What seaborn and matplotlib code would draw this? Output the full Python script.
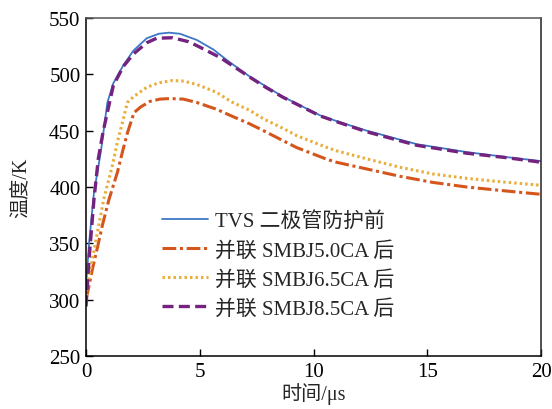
import matplotlib
matplotlib.use("Agg")
import matplotlib.pyplot as plt
import seaborn as sns

# ---- data ----
t_tvs = [0, 0.03, 0.13, 0.35, 0.65, 0.94, 1.2, 1.64, 2.08, 2.67, 3.2, 3.65, 4.13,
         4.87, 5.6, 6.3, 7.2, 8.67, 9.41, 10.3, 11.16, 12.34, 14.54, 16.73, 18.5, 20]
T_tvs = [310, 320, 349, 395, 431, 475, 492, 508, 521, 532, 536, 537, 536,
         530.5, 522, 511, 498, 480, 472.5, 463.5, 457.5, 450, 438, 431, 426.5, 423]

t_50 = [0, 0.09, 0.28, 0.5, 0.72, 1.01, 1.38, 1.6, 1.82, 2.11, 2.4, 2.81, 3.25,
        3.69, 4.28, 4.87, 5.74, 6.4, 7.2, 7.8, 8.38, 9.26, 10.6, 11.0, 12.34,
        13.8, 15.27, 16.73, 18.2, 20]
T_50 = [301, 308, 327, 346, 366, 389, 413, 431, 448, 466, 471, 476, 478,
        478.5, 478, 475, 469, 463, 456, 450, 444, 435, 424.5, 422, 416,
        409.5, 404, 400, 397, 393.5]

t_65 = [0, 0.13, 0.35, 0.57, 0.79, 1.16, 1.38, 1.6, 1.82, 2.08, 2.67, 3.2, 3.8,
        4.3, 4.87, 5.74, 6.4, 7.2, 7.8, 8.67, 9.26, 10.6, 11.0, 12.34, 13.8,
        15.27, 16.73, 18.2, 20]
T_65 = [303, 320, 343.5, 367, 390, 419, 440, 457, 475, 480, 488.5, 492.5, 494.5,
        494, 491, 484, 475.5, 468, 460.5, 452, 445.6, 435, 432.2, 425, 417.5,
        411.5, 407.7, 404.7, 401.5]

t_85 = [0, 0.13, 0.35, 0.54, 0.75, 1.2, 1.64, 2.08, 2.67, 3.1, 3.8, 4.5, 4.87,
        5.89, 7.2, 7.94, 8.67, 9.41, 10.3, 11.16, 12.34, 14.54, 16.73, 18.5, 20]
T_85 = [294, 335, 389, 425, 449, 490, 507, 518, 528, 532, 532.5, 529, 525.5,
        515, 497.5, 488, 479.5, 472, 463, 457, 449, 437, 430, 426, 422]

labels = ["TVS 二极管防护前", "并联 SMBJ5.0CA 后", "并联 SMBJ6.5CA 后", "并联 SMBJ8.5CA 后"]
x_ticks = [0, 5, 10, 15, 20]
y_ticks = [250, 300, 350, 400, 450, 500, 550]

sns.set_style("ticks")
plt.rcParams["font.family"] = ["Liberation Serif", "Noto Sans CJK SC", "DejaVu Sans"]

fig = plt.figure(figsize=(5.52, 4.10), dpi=100)
ax = fig.add_axes([86 / 552, 1 - 357 / 410, 455 / 552, 338 / 410])

series = [
    (t_tvs, T_tvs, "#3c78c6", 1.3, None),
    (t_50, T_50, "#d4561c", 2.2, (4.5, 1.2, 1.0, 1.2)),
    (t_65, T_65, "#e9ad3a", 2.2, (0.8, 1.0)),
    (t_85, T_85, "#74237f", 2.4, (3.3, 1.6)),
]
for (x, y, c, lw, d), lab in zip(series, labels):
    sns.lineplot(x=x, y=y, ax=ax, color=c, linewidth=lw, label=lab)
    line = ax.lines[-1]
    if d is not None:
        line.set_dashes(d)
        line.set_dash_capstyle("butt")

ax.set_xlim(0, 20)
ax.set_ylim(250, 550)
ax.set_xticks(x_ticks)
ax.set_yticks(y_ticks)
ax.tick_params(direction="in", length=5, width=1, labelsize=15, colors="black",
               top=False, right=False, pad=4)
for s in ["left", "bottom"]:
    ax.spines[s].set_color("black")
    ax.spines[s].set_linewidth(1.1)
for s in ["top", "right"]:
    ax.spines[s].set_visible(True)
    ax.spines[s].set_color("#555555")
    ax.spines[s].set_linewidth(1.1)
ax.spines["right"].set_color("#222222")

ax.set_xlabel("时间/μs", fontsize=14.5, labelpad=1)
ax.set_ylabel("温度/K", fontsize=14.5, labelpad=13)

leg = ax.legend(loc="upper left", bbox_to_anchor=(0.167, 0.428), frameon=False,
                fontsize=15, handlelength=2.2, handletextpad=0.35,
                labelspacing=0.45, borderpad=0, borderaxespad=0)

fig.savefig("out.png", dpi=100)
